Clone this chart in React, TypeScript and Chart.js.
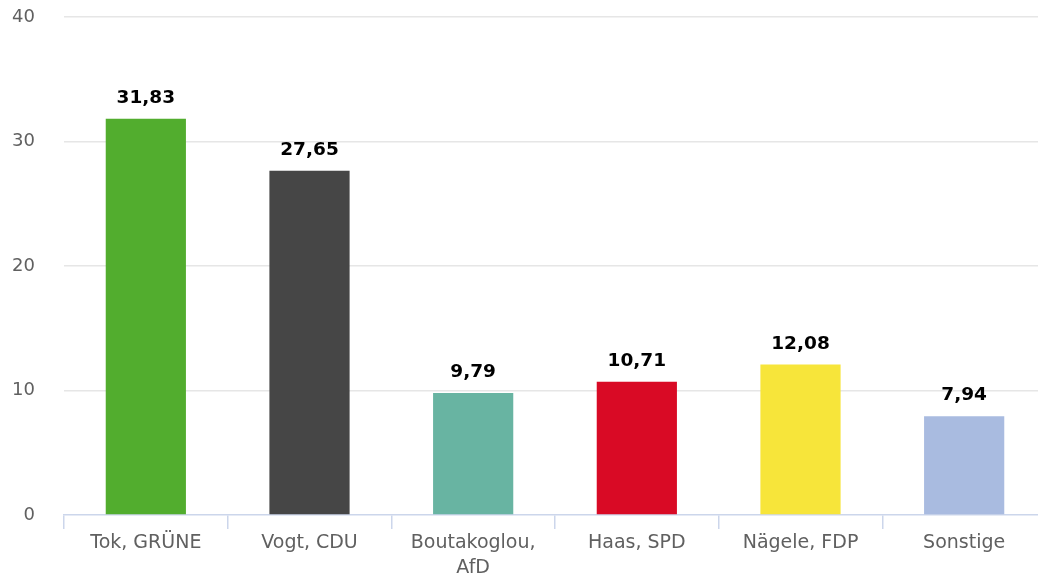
import React, { useEffect, useRef } from "react";
import { Chart, registerables } from "chart.js";

Chart.register(...registerables);

const categories: (string | string[])[] = [
  "Tok, GRÜNE",
  "Vogt, CDU",
  ["Boutakoglou,", "AfD"],
  "Haas, SPD",
  "Nägele, FDP",
  "Sonstige",
];
const values = [31.83, 27.65, 9.79, 10.71, 12.08, 7.94];
const barColors = ["#52ad2e", "#464646", "#68b4a2", "#d90a25", "#f7e53a", "#a9bbe0"];
const yTicks = [0, 10, 20, 30, 40];

const FONT = "'DejaVu Sans', Verdana, sans-serif";

const valueLabels = {
  id: "valueLabels",
  afterDatasetsDraw(chart: any) {
    const ctx = chart.ctx;
    const meta = chart.getDatasetMeta(0);
    ctx.save();
    ctx.font = `bold 18.5px ${FONT}`;
    ctx.fillStyle = "#000000";
    ctx.textAlign = "center";
    ctx.textBaseline = "alphabetic";
    meta.data.forEach((bar: any, i: number) => {
      const txt = values[i].toFixed(2).replace(".", ",");
      ctx.fillText(txt, bar.x, bar.y - 16);
    });
    ctx.restore();
  },
};

export default function App() {
  const ref = useRef<HTMLCanvasElement>(null);
  useEffect(() => {
    if (!ref.current) return;
    const chart = new Chart(ref.current, {
      type: "bar",
      data: {
        labels: categories,
        datasets: [
          {
            data: values,
            backgroundColor: barColors,
            borderWidth: 0,
            categoryPercentage: 1,
            barPercentage: 0.49,
          },
        ],
      },
      plugins: [valueLabels],
      options: {
        animation: false,
        responsive: true,
        maintainAspectRatio: false,
        layout: { padding: { top: 17, right: 1, left: 0, bottom: 0 } },
        plugins: {
          legend: { display: false },
          tooltip: { enabled: false },
        },
        scales: {
          x: {
            offset: true,
            grid: {
              offset: true,
              drawOnChartArea: false,
              drawTicks: true,
              tickLength: 14,
              color: "#ccd6eb",
              lineWidth: 1.5,
            },
            border: { display: true, color: "#ccd6eb", width: 1.5 },
            ticks: {
              autoSkip: false,
              maxRotation: 0,
              minRotation: 0,
              padding: 1,
              color: "#606060",
              font: { family: FONT, size: 19, lineHeight: 1.35 },
            },
            afterFit: (scale: any) => {
              scale.height = 62;
              scale.paddingLeft = 0;
              scale.paddingRight = 0;
            },
          },
          y: {
            min: 0,
            max: 40,
            afterBuildTicks: (scale: any) => {
              scale.ticks = yTicks.map((v) => ({ value: v }));
            },
            grid: {
              drawTicks: false,
              color: (c: any) => (c.tick && c.tick.value === 0 ? "rgba(0,0,0,0)" : "#e6e6e6"),
              lineWidth: 1.6,
            },
            border: { display: false },
            ticks: {
              padding: 29,
              color: "#606060",
              font: { family: FONT, size: 18 },
            },
            afterFit: (scale: any) => {
              scale.width = 64;
              scale.paddingTop = 0;
              scale.paddingBottom = 0;
            },
          },
        },
      },
    });
    return () => chart.destroy();
  }, []);
  return (
    <div style={{ position: "absolute", left: 0, top: 0, width: 1038, height: 577, overflow: "hidden", background: "#fff" }}>
      <div style={{ position: "relative", width: 1047, height: 577 }}>
        <canvas ref={ref} />
      </div>
    </div>
  );
}
